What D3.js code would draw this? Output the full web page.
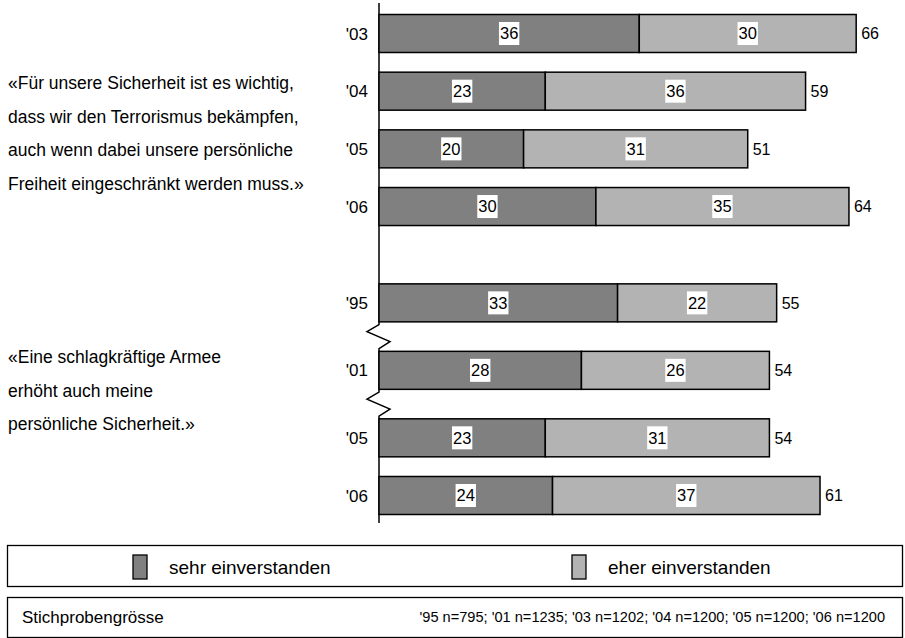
<!DOCTYPE html>
<html><head><meta charset="utf-8">
<script src="https://cdn.jsdelivr.net/npm/d3@7"></script>
<style>body{margin:0;background:#fff}svg{display:block}text{font-family:"Liberation Sans",Arial,sans-serif;fill:#000}</style>
</head><body>
<svg id="c" width="905" height="638"></svg>
<script>
// ---- data ----
const years = ["'03","'04","'05","'06","'95","'01","'05","'06"];
const groups = [0,0,0,0,1,1,1,1];
const sehr = [36,23,20,30,33,28,23,24];
const eher = [30,36,31,35,22,26,31,37];
const totals = [66,59,51,64,55,54,54,61];
const breakAfter = [false,false,false,false,true,true,false,false];
const statements = [
  ["«Für unsere Sicherheit ist es wichtig,","dass wir den Terrorismus bekämpfen,","auch wenn dabei unsere persönliche","Freiheit eingeschränkt werden muss.»"],
  ["«Eine schlagkräftige Armee","erhöht auch meine","persönliche Sicherheit.»"]
];
const seriesNames = ["sehr einverstanden","eher einverstanden"];
const sampleLabel = "Stichprobengrösse";
const sampleText = "'95 n=795; '01 n=1235; '03 n=1202; '04 n=1200; '05 n=1200; '06 n=1200";

// ---- layout ----
const colors = ["#808080","#b3b3b3"];
const groupGap = 0.67, breakGap = 0.17;
const slots = [];
years.forEach((y,i)=>{
  let s = i===0 ? 0 : slots[i-1] + 1;
  if (i>0 && groups[i]!==groups[i-1]) s += groupGap;
  if (i>0 && breakAfter[i-1]) s += breakGap;
  slots.push(s);
});
const svg = d3.select("#c");
const x = d3.scaleLinear().domain([0,100]).range([379, 379+723]);
const y = d3.scaleLinear().domain([0, d3.max(slots)]).range([33.5, 495.5]);
const bh = 38;

// axis with break marks
const ax = x(0);
let p = `M${ax},3`;
slots.forEach((s,i)=>{
  if (breakAfter[i]) {
    const m = (y(s)+bh/2 + y(slots[i+1])-bh/2)/2;
    p += ` V${m-12} L${ax-12},${m-5} L${ax+11},${m+5} L${ax},${m+12}`;
  }
});
p += ` V523`;
svg.append("path").attr("d",p).attr("fill","none").attr("stroke","#000").attr("stroke-width",1.5);

const rows = years.map((yr,i)=>({yr, i, s:slots[i], a:sehr[i], b:eher[i], t:totals[i]}));
const g = svg.selectAll("g.row").data(rows).join("g").attr("class","row");
g.append("rect").attr("x",d=>x(0)).attr("y",d=>y(d.s)-bh/2).attr("width",d=>x(d.a)-x(0)).attr("height",bh)
 .attr("fill",colors[0]).attr("stroke","#000").attr("stroke-width",1.5);
g.append("rect").attr("x",d=>x(d.a)).attr("y",d=>y(d.s)-bh/2).attr("width",d=>x(d.a+d.b)-x(d.a)).attr("height",bh)
 .attr("fill",colors[1]).attr("stroke","#000").attr("stroke-width",1.5);

g.each(function(d){
  const gg = d3.select(this);
  [[ (x(0)+x(d.a))/2, d.a],[ (x(d.a)+x(d.a+d.b))/2, d.b]].forEach(([cx,v])=>{
    const lg = gg.append("g").attr("transform",`translate(0,${y(d.s)})`);
    const bg = lg.append("rect").attr("fill","#fff");
    const t = lg.append("text").attr("x",cx).attr("y",0).attr("text-anchor","middle").attr("dy","0.36em").attr("font-size",16.5).text(v);
    const bb = t.node().getBBox();
    bg.attr("x",bb.x-1).attr("y",-11.5).attr("width",bb.width+2).attr("height",23);
  });
  gg.append("text").attr("x",x(d.a+d.b)+5).attr("y",y(d.s)).attr("dy","0.36em").attr("font-size",16).text(d.t);
  gg.append("text").attr("x",x(0)-11).attr("y",y(d.s)).attr("dy","0.36em").attr("text-anchor","end").attr("font-size",17).text(d.yr);
});

// statements
const stY = [89, 363];
statements.forEach((lines,gi)=>{
  lines.forEach((ln,li)=>{
    svg.append("text").attr("x",8).attr("y",stY[gi]+li*33.5).attr("font-size",17.5).text(ln);
  });
});

// legend box
svg.append("rect").attr("x",7.5).attr("y",545.5).attr("width",895).attr("height",41).attr("fill","#fff").attr("stroke","#000").attr("stroke-width",1.3);
const legX = [133, 572];
seriesNames.forEach((n,i)=>{
  svg.append("rect").attr("x",legX[i]).attr("y",555).attr("width",14).attr("height",24).attr("fill",colors[i]).attr("stroke","#000").attr("stroke-width",1.3);
  svg.append("text").attr("x",legX[i]+36).attr("y",567).attr("dy","0.36em").attr("font-size",19).text(n);
});
// sample size box
svg.append("rect").attr("x",7.5).attr("y",597.5).attr("width",895).attr("height",40).attr("fill","#fff").attr("stroke","#000").attr("stroke-width",1.3);
svg.append("text").attr("x",22).attr("y",617).attr("dy","0.36em").attr("font-size",17).text(sampleLabel);
svg.append("text").attr("x",885).attr("y",617).attr("dy","0.36em").attr("text-anchor","end").attr("font-size",14.6).text(sampleText);
</script>
</body></html>
